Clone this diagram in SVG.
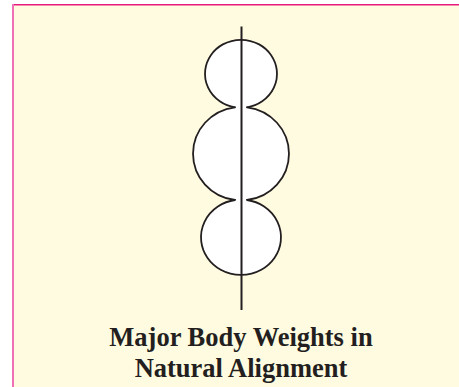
<svg xmlns="http://www.w3.org/2000/svg" width="459" height="387" viewBox="0 0 459 387">
<style>
.body-fill{fill:#ffffff;stroke:none}
.body-line{fill:none;stroke:#231f20;stroke-width:1.8;stroke-linecap:round}
.axis{stroke:#231f20;stroke-width:2}
.caption{font-family:"Liberation Serif","Times New Roman",serif;font-weight:bold;font-size:26.5px;fill:#231f20;text-anchor:middle}
</style>
<rect x="0" y="0" width="459" height="387" fill="#ffffff"/>
<rect x="13" y="4.5" width="446" height="382.5" fill="#fffbe0"/>
<line x1="13" y1="4.8" x2="459" y2="4.8" stroke="#e8197f" stroke-width="1.6"/>
<line x1="13" y1="4" x2="13" y2="387" stroke="#f070b8" stroke-width="2"/>
<g id="head">
<ellipse class="body-fill" cx="241" cy="73.8" rx="36" ry="34"/>
<path class="body-line" d="M235,107.3 A36,34 0 1 1 247,107.3"/>
</g>
<g id="torso">
<ellipse class="body-fill" cx="241" cy="153.65" rx="48" ry="46.72"/>
<path class="body-line" d="M235,107.3 A48,46.72 0 0 0 235,200 M247,107.3 A48,46.72 0 0 1 247,200"/>
</g>
<g id="pelvis">
<ellipse class="body-fill" cx="241" cy="237.3" rx="40" ry="37.7"/>
<path class="body-line" d="M247,200 A40,37.7 0 1 1 235,200"/>
</g>
<g id="connectors">
<line class="axis" x1="241.5" y1="26.5" x2="241.5" y2="310"/>
</g>
<g id="caption">
<text class="caption" x="241" y="346">Major Body Weights in</text>
<text class="caption" x="241" y="376.7">Natural Alignment</text>
</g>
</svg>
